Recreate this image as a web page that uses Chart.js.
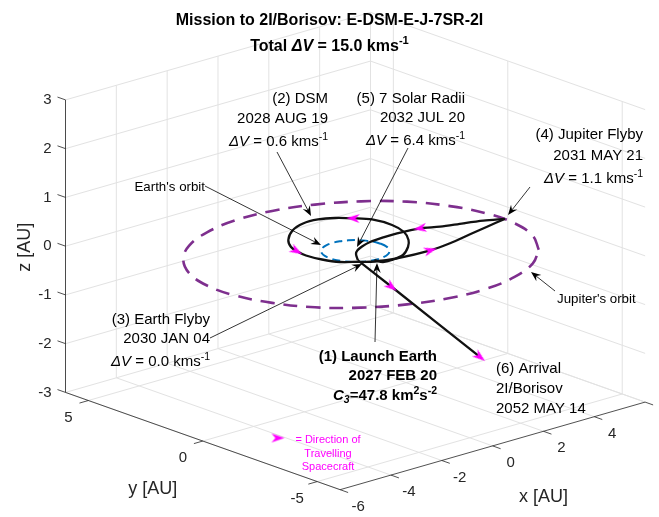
<!DOCTYPE html>
<html>
<head>
<meta charset="utf-8">
<title>Mission to 2I/Borisov</title>
<script src="https://cdn.jsdelivr.net/npm/chart.js@4.4.1/dist/chart.umd.min.js"></script>
<style>
  html, body { margin: 0; padding: 0; background: #ffffff; overflow: hidden; }
  canvas { display: block; }
</style>
</head>
<body>
<canvas id="trajectory" width="659" height="517"></canvas>
<script>
// Heliocentric positions in AU (x, y in the ecliptic, z out of it)

// Earth's orbit
const earthOrbitX = [1, 0.966, 0.866, 0.707, 0.5, 0.259, 0, -0.259, -0.5, -0.707, -0.866, -0.966,
                     -1, -0.966, -0.866, -0.707, -0.5, -0.259, 0, 0.259, 0.5, 0.707, 0.866, 0.966];
const earthOrbitY = [0, 0.259, 0.5, 0.707, 0.866, 0.966, 1, 0.966, 0.866, 0.707, 0.5, 0.259,
                     0, -0.259, -0.5, -0.707, -0.866, -0.966, -1, -0.966, -0.866, -0.707, -0.5, -0.259];

// Jupiter's orbit
const jupiterOrbitX = [3.77, 4.49, 4.89, 4.95, 4.66, 4.06, 3.17, 2.06, 0.80, -0.52, -1.81, -2.98,
                       -3.95, -4.67, -5.07, -5.13, -4.84, -4.24, -3.35, -2.24, -0.98, 0.34, 1.63, 2.80];
const jupiterOrbitY = [-3.83, -2.77, -1.55, -0.25, 1.04, 2.25, 3.27, 4.05, 4.52, 4.67, 4.47, 3.95,
                       3.13, 2.07, 0.85, -0.45, -1.74, -2.95, -3.97, -4.75, -5.22, -5.37, -5.17, -4.65];
const jupiterOrbitZ = [0.10, 0.10, 0.09, 0.07, 0.05, 0.03, 0, -0.03, -0.05, -0.07, -0.09, -0.10,
                       -0.10, -0.10, -0.09, -0.07, -0.05, -0.03, 0, 0.03, 0.05, 0.07, 0.09, 0.10];

// (1) launch from Earth -> (2) DSM -> (3) Earth flyby
const leg1X = [-0.139, -0.074, 0.245, 0.790, 1.390, 1.831, 2.225, 2.394, 2.297, 1.958, 1.586,
               1.124, 0.553, -0.105, -0.780, -1.151, -1.277, -1.347, -1.245, -1.008, -0.57];
const leg1Y = [-0.990, -1.291, -1.331, -1.206, -0.759, -0.292, 0.341, 1.053, 1.819, 2.272, 2.645,
               2.876, 2.897, 2.626, 2.061, 1.531, 1.151, 0.659, 0.073, -0.450, -0.82];

// (3) Earth flyby -> (4) Jupiter flyby
const leg2X = [-0.57, -0.217, 0.458, 1.676, 2.530, 3.517, 4.353, 4.98];
const leg2Y = [-0.82, -1.101, -1.314, -1.424, -1.329, -1.108, -0.923, -1.00];
const leg2Z = [0, 0, 0, 0, 0, 0, 0, 0.08];

// (4) Jupiter flyby -> (5) perihelion at 7 solar radii
const leg3X = [4.98, 4.641, 4.047, 3.332, 2.799, 1.993, 1.450, 0.872, 0.422, 0.091, -0.169, -0.513];
const leg3Y = [-1.00, -0.442, -0.228, -0.003, 0.280, 0.389, 0.385, 0.325, 0.175, 0.005, -0.218, -0.686];
const leg3Z = [0.08, 0, 0, 0, 0, 0, 0, 0, 0, 0, 0, 0];

// (5) perihelion -> (6) arrival at 2I/Borisov (cut at the plot box)
const leg4X = [-0.513, -0.51, -0.50];
const leg4Y = [-0.686, -2.15, -6.00];
const leg4Z = [0, -0.30, -1.10];

// direction-of-travel markers: [leg, vertex]
const travelMarks = [['leg1', 9], ['leg1', 16], ['leg2', 3], ['leg3', 4], ['leg4', 1], ['leg4', 2]];

// axes
const xLim = [-6, 6], yLim = [-6, 6], zLim = [-3, 3];
const xTicks = [-6, -4, -2, 0, 2, 4, 6];
const yTicks = [-5, 0, 5];
const zTicks = [-3, -2, -1, 0, 1, 2, 3];

// ---- view ----
const VIEW = { az: 42, el: 18.6, zStretch: 1.504 };
const PX_PER_AU = 34.2;
const ORIGIN_PX = { u: 355.3, v: 251 };
const W = 659, H = 517;
const FONT = '"Liberation Sans", Arial, Helvetica, sans-serif';
const MAGENTA = '#FF00FF';

const DEG = Math.PI / 180;
const ca = Math.cos(VIEW.az * DEG), sa = Math.sin(VIEW.az * DEG);
const se = Math.sin(VIEW.el * DEG), ce = Math.cos(VIEW.el * DEG);

// orthographic projection onto the screen plane (AU)
function project(x, y, z) {
    return { x: x * ca - y * sa, y: se * (x * sa + y * ca) + ce * VIEW.zStretch * z };
}
const track = (xs, ys, zs) => xs.map((x, i) => project(x, ys[i], zs ? zs[i] : 0));
const closed = pts => pts.concat([pts[0]]);
const seg = (a, b) => [project(...a), project(...b)];

const legs = {
    leg1: track(leg1X, leg1Y),
    leg2: track(leg2X, leg2Y, leg2Z),
    leg3: track(leg3X, leg3Y, leg3Z),
    leg4: track(leg4X, leg4Y, leg4Z)
};

// arrowhead sprite used for the travel markers
function arrowSprite(color, len, wid) {
    const c = document.createElement('canvas');
    const size = Math.ceil(Math.max(len, wid)) + 2;
    c.width = size; c.height = size;
    const g = c.getContext('2d');
    const m = size / 2;
    g.fillStyle = color;
    g.beginPath();
    g.moveTo(m + len / 2, m);
    g.lineTo(m - len / 2, m - wid / 2);
    g.lineTo(m - len / 2 + len * 0.3, m);
    g.lineTo(m - len / 2, m + wid / 2);
    g.closePath();
    g.fill();
    return c;
}
const travelArrow = arrowSprite(MAGENTA, 13, 9);

const markPts = [], markRot = [];
travelMarks.forEach(([leg, i]) => {
    const p = legs[leg];
    const a = p[Math.max(i - 1, 0)], b = p[Math.min(i + 1, p.length - 1)];
    markPts.push(p[i]);
    markRot.push(Math.atan2(-(b.y - a.y), b.x - a.x) / DEG);
});

// grid on the three back planes
const gridSegs = [];
zTicks.forEach(t => gridSegs.push(seg([xLim[0], yLim[1], t], [xLim[1], yLim[1], t])));
xTicks.forEach(t => gridSegs.push(seg([t, yLim[1], zLim[0]], [t, yLim[1], zLim[1]])));
zTicks.forEach(t => gridSegs.push(seg([xLim[1], yLim[0], t], [xLim[1], yLim[1], t])));
yTicks.forEach(t => gridSegs.push(seg([xLim[1], t, zLim[0]], [xLim[1], t, zLim[1]])));
xTicks.forEach(t => gridSegs.push(seg([t, yLim[0], zLim[0]], [t, yLim[1], zLim[0]])));
yTicks.forEach(t => gridSegs.push(seg([xLim[0], t, zLim[0]], [xLim[1], t, zLim[0]])));

// axis lines and tick marks
const axisSegs = [
    seg([xLim[0], yLim[1], zLim[0]], [xLim[0], yLim[1], zLim[1]]),
    seg([xLim[0], yLim[0], zLim[0]], [xLim[0], yLim[1], zLim[0]]),
    seg([xLim[0], yLim[0], zLim[0]], [xLim[1], yLim[0], zLim[0]])
];
zTicks.forEach(t => axisSegs.push(seg([xLim[0], yLim[1], t], [xLim[0], yLim[1] + 0.35, t])));
yTicks.forEach(t => axisSegs.push(seg([xLim[0], t, zLim[0]], [xLim[0] - 0.35, t, zLim[0]])));
xTicks.forEach(t => axisSegs.push(seg([t, yLim[0], zLim[0]], [t, yLim[0] - 0.35, zLim[0]])));

const line = (data, color, width, extra) => Object.assign({
    data, showLine: true, borderColor: color, backgroundColor: color, borderWidth: width,
    pointRadius: 0, pointHoverRadius: 0, tension: 0
}, extra);

const datasets = [
    ...gridSegs.map(d => line(d, '#e2e2e2', 1, { order: 20 })),
    ...axisSegs.map(d => line(d, 'rgba(38,38,38,0.8)', 1, { order: 15 })),
    line(closed(track(jupiterOrbitX, jupiterOrbitY, jupiterOrbitZ)), '#7E2F8E', 2.6,
         { borderDash: [14, 9], tension: 0.4, order: 6 }),
    line(closed(track(earthOrbitX, earthOrbitY)), '#0072BD', 2,
         { borderDash: [8, 5], tension: 0.4, order: 5 }),
    ...Object.values(legs).map(d => line(d, '#111111', 2.3, { tension: 0.3, order: 3 })),
    {
        data: markPts, showLine: false, pointStyle: travelArrow, pointRotation: markRot,
        pointRadius: 7, pointHoverRadius: 7, order: 1
    }
];

// ---- text and callouts ----
function richText(ctx, parts, x, y, opts) {
    const size = opts.size || 15;
    const weight = opts.bold ? 'bold ' : '';
    const items = parts.map(p => {
        const [text, flag = ''] = Array.isArray(p) ? p : [p];
        const small = flag.includes('sup') || flag.includes('sub');
        const fs = small ? size * 0.7 : size;
        const font = (flag.includes('it') ? 'italic ' : '') + weight + fs + 'px ' + FONT;
        ctx.font = font;
        const dy = flag.includes('sup') ? -size * 0.42 : flag.includes('sub') ? size * 0.22 : 0;
        return { text, font, dy, w: ctx.measureText(text).width };
    });
    const total = items.reduce((s, it) => s + it.w, 0);
    let cx = opts.align === 'right' ? x - total : opts.align === 'center' ? x - total / 2 : x;
    ctx.fillStyle = opts.color || '#000000';
    ctx.textAlign = 'left';
    ctx.textBaseline = 'alphabetic';
    items.forEach(it => { ctx.font = it.font; ctx.fillText(it.text, cx, y + it.dy); cx += it.w; });
}

const dv = v => [['ΔV', 'it'], [' = ' + v + ' kms'], ['-1', 'sup']];
const notes = [
    { x: 328, y: [103, 123, 146], align: 'right', lines: [['(2) DSM'], ['2028 AUG 19'], dv('0.6')] },
    { x: 465, y: [103, 122, 145], align: 'right', lines: [['(5) 7 Solar Radii'], ['2032 JUL 20'], dv('6.4')] },
    { x: 643, y: [139, 160, 183], align: 'right', lines: [['(4) Jupiter Flyby'], ['2031 MAY 21'], dv('1.1')] },
    { x: 210, y: [324, 343, 366], align: 'right', lines: [['(3) Earth Flyby'], ['2030 JAN 04'], dv('0.0')] },
    { x: 437, y: [361, 380, 400], align: 'right', bold: true, lines: [['(1) Launch Earth'], ['2027 FEB 20'],
        [['C', 'it'], ['3', 'it sub'], ['=47.8 km'], ['2', 'sup'], ['s'], ['-2', 'sup']]] },
    { x: 496, y: [373, 393, 413], align: 'left', lines: [['(6) Arrival'], ['2I/Borisov'], ['2052 MAY 14']] },
    { x: 205, y: [191], align: 'right', size: 13.3, lines: [["Earth's orbit"]] },
    { x: 557, y: [303], align: 'left', size: 13.3, lines: [["Jupiter's orbit"]] },
    { x: 328, y: [443, 456.5, 470], align: 'center', size: 11, color: MAGENTA,
      lines: [['= Direction of'], ['Travelling'], ['Spacecraft']] }
];
const callouts = [
    [[277, 152], [311, 216]],
    [[205, 186], [321, 245]],
    [[408, 148], [357, 247]],
    [[530, 187], [508, 215]],
    [[555, 291], [531, 272]],
    [[210, 338], [362, 264]],
    [[375, 342], [377, 263]]
];

function drawCallout(ctx, from, to) {
    const dx = to[0] - from[0], dy = to[1] - from[1];
    const L = Math.hypot(dx, dy), ux = dx / L, uy = dy / L;
    const len = 10, wid = 8;
    ctx.strokeStyle = '#000000';
    ctx.lineWidth = 0.8;
    ctx.beginPath();
    ctx.moveTo(from[0], from[1]);
    ctx.lineTo(to[0] - ux * len * 0.6, to[1] - uy * len * 0.6);
    ctx.stroke();
    ctx.fillStyle = '#000000';
    ctx.beginPath();
    ctx.moveTo(to[0], to[1]);
    ctx.lineTo(to[0] - ux * len - uy * wid / 2, to[1] - uy * len + ux * wid / 2);
    ctx.lineTo(to[0] - ux * len * 0.65, to[1] - uy * len * 0.65);
    ctx.lineTo(to[0] - ux * len + uy * wid / 2, to[1] - uy * len - ux * wid / 2);
    ctx.closePath();
    ctx.fill();
}

const overlay = {
    id: 'overlay',
    beforeDraw(chart) {
        const ctx = chart.ctx;
        ctx.save();
        ctx.fillStyle = '#ffffff';
        ctx.fillRect(0, 0, chart.width, chart.height);
        ctx.restore();
    },
    afterDatasetsDraw(chart) {
        const ctx = chart.ctx;
        const xs = chart.scales.x, ys = chart.scales.y;
        const px = (x, y, z) => {
            const p = project(x, y, z);
            return [xs.getPixelForValue(p.x), ys.getPixelForValue(p.y)];
        };
        ctx.save();

        // tick labels
        ctx.fillStyle = '#262626';
        ctx.font = '15px ' + FONT;
        ctx.textBaseline = 'middle';
        ctx.textAlign = 'right';
        zTicks.forEach(t => { const [u, v] = px(xLim[0], yLim[1], t); ctx.fillText(String(t), u - 14, v); });
        ctx.textAlign = 'center';
        yTicks.forEach(t => { const [u, v] = px(xLim[0], t, zLim[0]); ctx.fillText(String(t), u - 20, v + 17.3); });
        xTicks.forEach(t => { const [u, v] = px(t, yLim[0], zLim[0]); ctx.fillText(String(t), u + 18, v + 17); });

        // axis labels
        ctx.font = '18px ' + FONT;
        let [u, v] = px(xLim[0], 0, zLim[0]);
        ctx.fillText('y [AU]', u - 50, v + 48);
        [u, v] = px(0, yLim[0], zLim[0]);
        ctx.fillText('x [AU]', u + 51, v + 51);
        [u, v] = px(xLim[0], yLim[1], 0);
        ctx.save();
        ctx.translate(u - 40, v + 1);
        ctx.rotate(-Math.PI / 2);
        ctx.fillText('z [AU]', 0, 0);
        ctx.restore();

        // title
        richText(ctx, [['Mission to 2I/Borisov: E-DSM-E-J-7SR-2I']], 329.5, 25, { align: 'center', size: 16, bold: true });
        richText(ctx, [['Total '], ['ΔV', 'it'], [' = 15.0 kms'], ['-1', 'sup']], 329.5, 51,
                 { align: 'center', size: 16, bold: true });

        // event notes and callouts
        notes.forEach(n => n.lines.forEach((parts, i) =>
            richText(ctx, parts, n.x, n.y[i], { align: n.align, size: n.size, bold: n.bold, color: n.color })));
        callouts.forEach(([a, b]) => drawCallout(ctx, a, b));

        // legend marker
        ctx.drawImage(travelArrow, 278 - travelArrow.width / 2, 438 - travelArrow.height / 2);
        ctx.restore();
    }
};

new Chart(document.getElementById('trajectory').getContext('2d'), {
    type: 'scatter',
    data: { datasets },
    options: {
        responsive: false,
        animation: false,
        events: [],
        layout: { padding: 0, autoPadding: false },
        plugins: { legend: { display: false }, tooltip: { enabled: false } },
        scales: {
            x: { type: 'linear', display: false, min: -ORIGIN_PX.u / PX_PER_AU, max: (W - ORIGIN_PX.u) / PX_PER_AU },
            y: { type: 'linear', display: false, min: -(H - ORIGIN_PX.v) / PX_PER_AU, max: ORIGIN_PX.v / PX_PER_AU }
        }
    },
    plugins: [overlay]
});
</script>
</body>
</html>
